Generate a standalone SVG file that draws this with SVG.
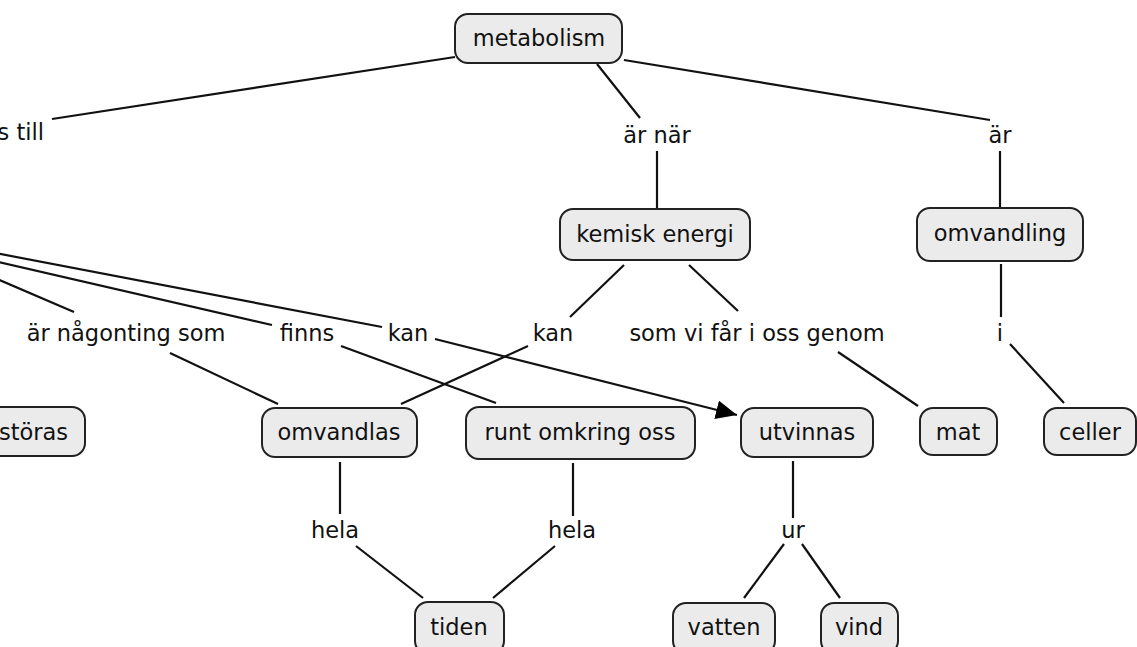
<svg xmlns="http://www.w3.org/2000/svg" width="1137" height="647" viewBox="0 0 1137 647">
<style>
.n rect{fill:#ebebeb;stroke:#222;stroke-width:2}
text{font-family:"DejaVu Sans",Verdana,sans-serif;font-size:22.5px;fill:#111}
.c{text-anchor:middle}
#connectors line{stroke:#111;stroke-width:2.2;fill:none}
</style>
<defs>
<marker id="ah" viewBox="0 0 10 10" refX="10" refY="5" markerWidth="21" markerHeight="19" markerUnits="userSpaceOnUse" orient="auto" preserveAspectRatio="none">
<path d="M0,0 L10,5 L0,10 z" fill="#000"/>
</marker>
</defs>
<rect width="1137" height="647" fill="#fff"/>
<g id="connectors">
<line x1="455" y1="57" x2="52" y2="119"/>
<line x1="597" y1="64" x2="640" y2="118"/>
<line x1="657" y1="151" x2="657" y2="208"/>
<line x1="624" y1="60" x2="990" y2="120"/>
<line x1="1000" y1="151" x2="1000" y2="207"/>
<line x1="624" y1="265" x2="570" y2="317"/>
<line x1="528" y1="346" x2="401" y2="404"/>
<line x1="689" y1="265" x2="738" y2="311"/>
<line x1="838" y1="352" x2="918" y2="406"/>
<line x1="1001" y1="264" x2="1001" y2="317"/>
<line x1="1010" y1="344" x2="1064" y2="403"/>
<line x1="-10" y1="252" x2="382" y2="327"/>
<line x1="-10" y1="260" x2="272" y2="325"/>
<line x1="-10" y1="276" x2="74" y2="312"/>
<line x1="170" y1="353" x2="278" y2="404"/>
<line x1="341" y1="346" x2="496" y2="403"/>
<line x1="435" y1="339" x2="737" y2="415" marker-end="url(#ah)"/>
<line x1="340" y1="462" x2="340" y2="514"/>
<line x1="356" y1="546" x2="423" y2="598"/>
<line x1="573" y1="463" x2="573" y2="516"/>
<line x1="555" y1="546" x2="493" y2="598"/>
<line x1="793" y1="461" x2="793" y2="518"/>
<line x1="784" y1="544" x2="744" y2="598"/>
<line x1="802" y1="544" x2="840" y2="598"/>
</g>
<g id="labels">
<text x="44" y="140" text-anchor="end">s till</text>
<text class="c" x="657" y="143">är när</text>
<text class="c" x="1000" y="143">är</text>
<text class="c" x="126" y="341">är någonting som</text>
<text class="c" x="307" y="341">finns</text>
<text class="c" x="408" y="341">kan</text>
<text class="c" x="553" y="341">kan</text>
<text class="c" x="757" y="341">som vi får i oss genom</text>
<text class="c" x="1000" y="341">i</text>
<text class="c" x="335" y="538">hela</text>
<text class="c" x="572" y="538">hela</text>
<text class="c" x="793" y="538">ur</text>
</g>
<g id="metabolism" class="n"><rect x="455" y="14" width="167" height="49" rx="13"/><text class="c" x="539" y="46">metabolism</text></g>
<g id="kemisk-energi" class="n"><rect x="560" y="209" width="190" height="51" rx="13"/><text class="c" x="655" y="242">kemisk energi</text></g>
<g id="omvandling" class="n"><rect x="917" y="208" width="166" height="53" rx="13"/><text class="c" x="1000" y="241">omvandling</text></g>
<g id="storas" class="n"><rect x="-60" y="407" width="145" height="49" rx="13"/><text x="68" y="440" text-anchor="end">störas</text></g>
<g id="omvandlas" class="n"><rect x="262" y="408" width="155" height="49" rx="13"/><text class="c" x="339" y="440">omvandlas</text></g>
<g id="runt-omkring-oss" class="n"><rect x="466" y="407" width="229" height="52" rx="13"/><text class="c" x="580" y="440">runt omkring oss</text></g>
<g id="utvinnas" class="n"><rect x="741" y="408" width="132" height="49" rx="13"/><text class="c" x="807" y="440">utvinnas</text></g>
<g id="mat" class="n"><rect x="920" y="408" width="77" height="47" rx="13"/><text class="c" x="958" y="440">mat</text></g>
<g id="celler" class="n"><rect x="1044" y="408" width="92" height="47" rx="13"/><text class="c" x="1090" y="440">celler</text></g>
<g id="tiden" class="n"><rect x="415" y="602" width="89" height="52" rx="13"/><text class="c" x="459" y="635">tiden</text></g>
<g id="vatten" class="n"><rect x="673" y="603" width="102" height="51" rx="13"/><text class="c" x="724" y="635">vatten</text></g>
<g id="vind" class="n"><rect x="821" y="603" width="77" height="51" rx="13"/><text class="c" x="859" y="635">vind</text></g>
</svg>
